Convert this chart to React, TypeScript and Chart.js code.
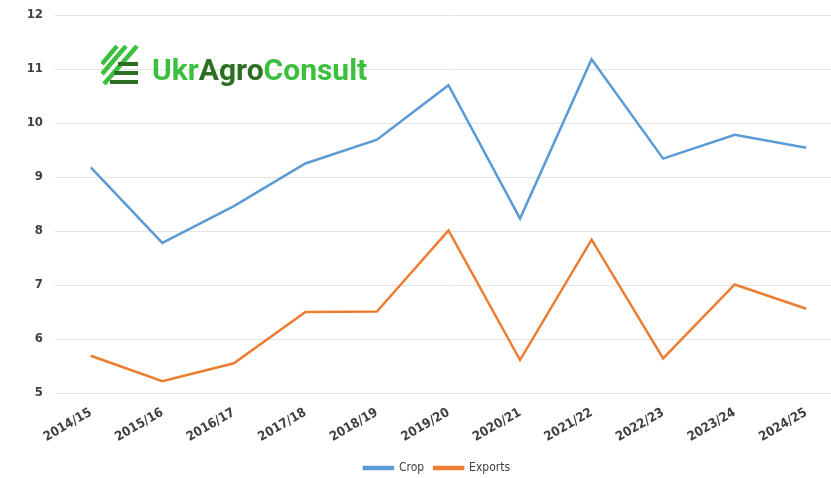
import React, { useEffect, useRef } from "react";
import { Chart, registerables } from "chart.js";

Chart.register(...registerables);

const categories = ["2014/15", "2015/16", "2016/17", "2017/18", "2018/19", "2019/20", "2020/21", "2021/22", "2022/23", "2023/24", "2024/25"];
const cropValues = [9.18, 7.78, 8.46, 9.25, 9.69, 10.7, 8.23, 11.18, 9.34, 9.78, 9.54];
const exportValues = [5.69, 5.22, 5.55, 6.5, 6.51, 8.01, 5.61, 7.84, 5.64, 7.01, 6.56];
const seriesNames = ["Crop", "Exports"];
const yMin = 5;
const yMax = 12;
const yStep = 1;

const FONT = "'DejaVu Sans Condensed', 'Liberation Sans Narrow', 'DejaVu Sans', sans-serif";
const LABEL = "#404040";

export default function App() {
  const ref = useRef<HTMLCanvasElement | null>(null);

  useEffect(() => {
    if (!ref.current) return;
    const chart = new Chart(ref.current, {
      type: "line",
      data: {
        labels: categories,
        datasets: [
          {
            label: seriesNames[0],
            data: cropValues,
            borderColor: "#5b9bd5",
            backgroundColor: "#5b9bd5",
            borderWidth: 2.5,
            pointRadius: 0,
            tension: 0,
          },
          {
            label: seriesNames[1],
            data: exportValues,
            borderColor: "#ed7d31",
            backgroundColor: "#ed7d31",
            borderWidth: 2.5,
            pointRadius: 0,
            tension: 0,
          },
        ],
      },
      options: {
        animation: false,
        responsive: false,
        maintainAspectRatio: false,
        layout: { padding: { top: 15, left: 0, right: 0, bottom: -6 } },
        plugins: {
          tooltip: { enabled: false },
          legend: {
            position: "bottom",
            labels: {
              boxWidth: 29,
              boxHeight: 2,
              padding: 10,
              color: LABEL,
              font: { family: FONT, size: 12 },
            },
          },
        },
        scales: {
          x: {
            type: "category",
            offset: true,
            grid: { display: false, drawTicks: false },
            border: { display: false },
            ticks: {
              color: LABEL,
              font: { family: FONT, size: 13, weight: "bold" },
              minRotation: 30,
              maxRotation: 30,
              padding: 12,
              autoSkip: false,
            },
            afterFit: (scale: any) => {
              scale.height = 59;
            },
          },
          y: {
            min: yMin,
            max: yMax,
            grid: { color: "#e4e4e4", lineWidth: 1, drawTicks: false },
            border: { display: false },
            ticks: {
              stepSize: yStep,
              color: LABEL,
              font: { family: FONT, size: 13, weight: "bold" },
              padding: 12,
            },
            afterFit: (scale: any) => {
              scale.width = 55;
              scale.paddingTop = 0;
              scale.paddingBottom = 0;
            },
          },
          y2: {
            position: "right",
            min: yMin,
            max: yMax,
            grid: { display: false, drawTicks: false },
            border: { display: false },
            ticks: { display: false },
            afterFit: (scale: any) => {
              scale.width = 32;
              scale.paddingTop = 0;
              scale.paddingBottom = 0;
            },
          },
        },
      },
    });
    return () => chart.destroy();
  }, []);

  return (
    <div style={{ position: "fixed", left: 0, top: 0, width: 831, height: 478, overflow: "hidden", background: "#fff" }}>
      <div style={{ position: "relative", width: 874, height: 478 }}>
        <canvas ref={ref} width={874} height={478} style={{ display: "block" }} />
        <div
          style={{
            position: "absolute",
            left: 101,
            top: 45,
            display: "flex",
            alignItems: "center",
            pointerEvents: "none",
          }}
        >
          <svg width="38" height="40" viewBox="0 0 38 40" style={{ display: "block" }}>
            <g stroke="#3cbf3e" strokeWidth="4.5" strokeLinecap="butt">
              <line x1="1" y1="19" x2="16" y2="1" />
              <line x1="1" y1="29" x2="25" y2="1" />
              <line x1="3" y1="39" x2="36" y2="1" />
            </g>
            <g stroke="#2d6f22" strokeWidth="4">
              <line x1="17" y1="19" x2="37" y2="19" />
              <line x1="13" y1="28" x2="37" y2="28" />
              <line x1="9" y1="37" x2="37" y2="37" />
            </g>
          </svg>
          <div
            style={{
              marginLeft: 13,
              fontFamily: "Roboto, 'DejaVu Sans', sans-serif",
              fontWeight: 700,
              fontSize: 30,
              lineHeight: "30px",
              letterSpacing: 0,
              color: "#3cbf3e",
              whiteSpace: "nowrap",
              marginTop: 10,
            }}
          >
            <span>Ukr</span>
            <span style={{ color: "#2d6f22" }}>Agro</span>
            <span>Consult</span>
          </div>
        </div>
      </div>
    </div>
  );
}
